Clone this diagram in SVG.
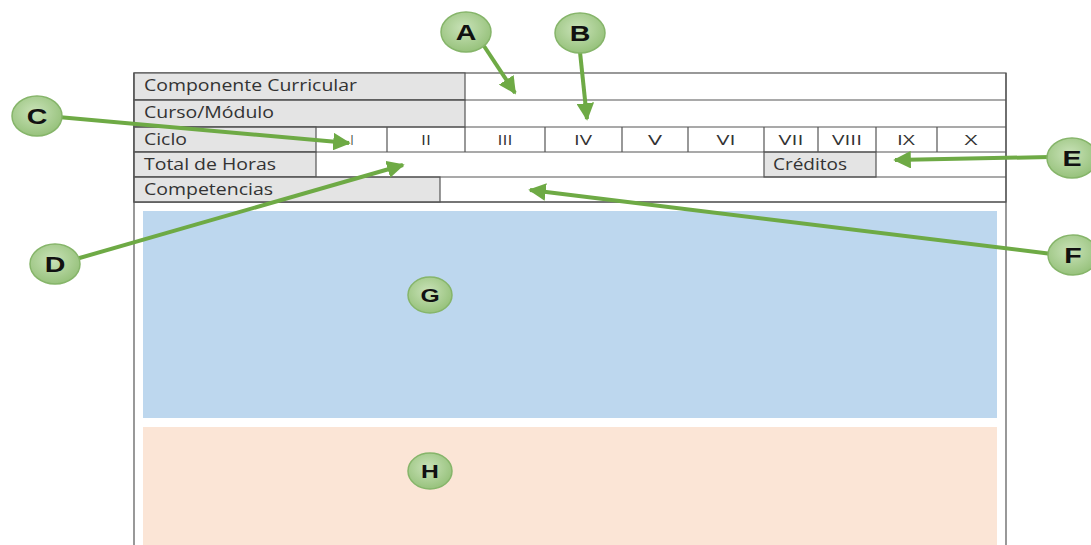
<svg xmlns="http://www.w3.org/2000/svg" width="1091" height="545" viewBox="0 0 1091 545">
<defs>
<radialGradient id="bub" cx="45%" cy="40%" r="60%">
<stop offset="0" stop-color="#C9E2B8"/>
<stop offset="1" stop-color="#97C27C"/>
</radialGradient>
<marker id="ah" viewBox="0 0 10 10" refX="9" refY="5" markerWidth="4.4" markerHeight="4.4" orient="auto" markerUnits="strokeWidth">
<path d="M0,0 L10,5 L0,10 z" fill="#6EAA45"/>
</marker>
</defs>
<style>
.ln{stroke:#555;stroke-width:1.2;fill:none}
.lab{fill:#E4E4E4;stroke:#555;stroke-width:1.2}
.cell{fill:#fff;stroke:#555;stroke-width:1.2}
.t{font-family:"Open Sans","Liberation Sans",sans-serif;font-size:16px;fill:#333}
.n{font-family:"Open Sans","Liberation Sans",sans-serif;font-size:15px;fill:#333;text-anchor:middle}
.bub{fill:url(#bub);stroke:#86B56A;stroke-width:1.5}
.bl{font-family:"Liberation Sans",Arial,sans-serif;font-weight:bold;font-size:22px;fill:#111;text-anchor:middle}
.bls{font-family:"Liberation Sans",Arial,sans-serif;font-weight:bold;font-size:19px;fill:#111;text-anchor:middle}
.arr{stroke:#6EAA45;stroke-width:4;fill:none;marker-end:url(#ah)}
</style>
<rect width="1091" height="545" fill="#fff"/>
<g id="table">
<rect class="cell" x="134" y="73" width="872" height="129"/>
<rect class="lab" x="134" y="73" width="331" height="27"/>
<rect class="lab" x="134" y="100" width="331" height="27"/>
<rect class="lab" x="134" y="127" width="182" height="25"/>
<rect class="lab" x="134" y="152" width="182" height="25"/>
<rect class="lab" x="764" y="152" width="112" height="25"/>
<rect class="lab" x="134" y="177" width="306" height="25"/>
<path class="ln" d="M134,100H1006M134,127H1006M134,152H1006M134,177H1006M134,202H1006"/>
<path class="ln" d="M387,127V152M465,127V152M545,127V152M622,127V152M688,127V152M764,127V152M818,127V152M876,127V152M937,127V152"/>
<path class="ln" d="M134,73V545M1006,73V545"/>
<text class="t" x="144" y="91" textLength="213" lengthAdjust="spacingAndGlyphs">Componente Curricular</text>
<text class="t" x="144" y="118" textLength="130" lengthAdjust="spacingAndGlyphs">Curso/Módulo</text>
<text class="t" x="144" y="145" textLength="43" lengthAdjust="spacingAndGlyphs">Ciclo</text>
<text class="t" x="144" y="170" textLength="132" lengthAdjust="spacingAndGlyphs">Total de Horas</text>
<text class="t" x="773" y="170" textLength="74" lengthAdjust="spacingAndGlyphs">Créditos</text>
<text class="t" x="144" y="195" textLength="129" lengthAdjust="spacingAndGlyphs">Competencias</text>
<text class="n" x="352" y="145" textLength="3" lengthAdjust="spacingAndGlyphs">I</text>
<text class="n" x="426" y="145" textLength="10" lengthAdjust="spacingAndGlyphs">II</text>
<text class="n" x="505" y="145" textLength="15" lengthAdjust="spacingAndGlyphs">III</text>
<text class="n" x="583" y="145" textLength="18" lengthAdjust="spacingAndGlyphs">IV</text>
<text class="n" x="655" y="145" textLength="14" lengthAdjust="spacingAndGlyphs">V</text>
<text class="n" x="726" y="145" textLength="19" lengthAdjust="spacingAndGlyphs">VI</text>
<text class="n" x="791" y="145" textLength="25" lengthAdjust="spacingAndGlyphs">VII</text>
<text class="n" x="847" y="145" textLength="30" lengthAdjust="spacingAndGlyphs">VIII</text>
<text class="n" x="906" y="145" textLength="18" lengthAdjust="spacingAndGlyphs">IX</text>
<text class="n" x="971" y="145" textLength="13" lengthAdjust="spacingAndGlyphs">X</text>
</g>
<g id="blockG"><rect x="143" y="211" width="854" height="207" fill="#BDD7EE"/></g>
<g id="blockH"><rect x="143" y="427" width="854" height="125" fill="#FBE5D6"/></g>
<g id="connectors">
<line class="arr" x1="484" y1="46" x2="515" y2="93"/>
<line class="arr" x1="580" y1="52" x2="587" y2="119"/>
<line class="arr" x1="58" y1="117" x2="349" y2="143"/>
<line class="arr" x1="76" y1="259" x2="403" y2="165"/>
<line class="arr" x1="1050" y1="157" x2="895" y2="160"/>
<line class="arr" x1="1052" y1="254" x2="530" y2="190"/>
</g>
<g id="nodeA"><ellipse class="bub" cx="466" cy="32" rx="25" ry="20"/><text class="bl" transform="translate(466,40) scale(1.3,1)">A</text></g>
<g id="nodeB"><ellipse class="bub" cx="580" cy="33" rx="25" ry="20"/><text class="bl" transform="translate(580,41) scale(1.3,1)">B</text></g>
<g id="nodeC"><ellipse class="bub" cx="37" cy="116" rx="25" ry="20"/><text class="bl" transform="translate(37,124) scale(1.3,1)">C</text></g>
<g id="nodeD"><ellipse class="bub" cx="55" cy="264" rx="25" ry="20"/><text class="bl" transform="translate(55,272) scale(1.3,1)">D</text></g>
<g id="nodeE"><ellipse class="bub" cx="1072" cy="158" rx="25" ry="20"/><text class="bl" transform="translate(1072,166) scale(1.3,1)">E</text></g>
<g id="nodeF"><ellipse class="bub" cx="1073" cy="255" rx="25" ry="20"/><text class="bl" transform="translate(1073,263) scale(1.3,1)">F</text></g>
<g id="nodeG"><ellipse class="bub" cx="430" cy="295" rx="22" ry="18"/><text class="bls" transform="translate(430,302) scale(1.3,1)">G</text></g>
<g id="nodeH"><ellipse class="bub" cx="430" cy="471" rx="22" ry="18"/><text class="bls" transform="translate(430,478) scale(1.3,1)">H</text></g>
</svg>
